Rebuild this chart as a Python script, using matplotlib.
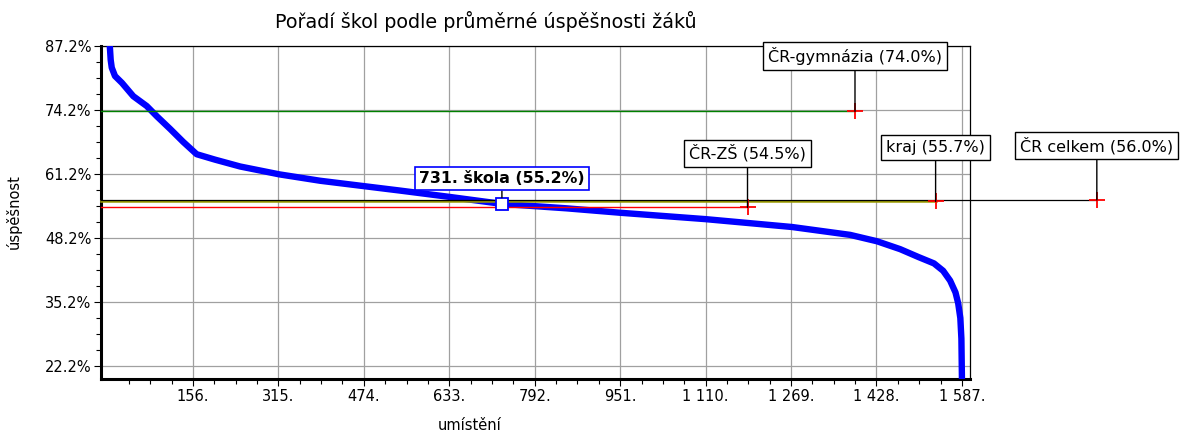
# Pořadí škol - sorted average success of schools
import numpy as np
import matplotlib.pyplot as plt
from matplotlib.ticker import FixedLocator

# curve: rank of school -> average success (%)
ranks = [1, 3, 5, 11, 24, 45, 70, 89, 114, 138, 163, 197, 244, 317, 393, 475,
         542, 635, 731, 851, 951, 1110, 1271, 1379, 1429, 1472, 1506, 1535,
         1552, 1565, 1575, 1580, 1584, 1586, 1587]
success = [88.0, 84.5, 82.9, 81.2, 79.8, 77.1, 75.1, 73.0, 70.4, 67.8, 65.3,
           64.2, 62.8, 61.2, 59.9, 58.8, 57.9, 56.6, 55.2, 54.3, 53.4, 52.1,
           50.5, 48.9, 47.6, 46.0, 44.4, 43.1, 41.6, 39.6, 37.2, 35.0, 32.0,
           27.8, 19.6]

# reference levels
ref_names = ['ČR-gymnázia', 'ČR-ZŠ', 'kraj', 'ČR celkem']
ref_values = [74.0, 54.5, 55.7, 56.0]
ref_colors = ['#008000', '#ff0000', '#9a9a00', 'black']

school_rank = 731
school_value = 55.2

xticks = [156, 315, 474, 633, 792, 951, 1110, 1269, 1428, 1587]
xtick_labels = ['156.', '315.', '474.', '633.', '792.', '951.',
                '1 110.', '1 269.', '1 428.', '1 587.']
yticks = [22.2, 35.2, 48.2, 61.2, 74.2, 87.2]

# where the label markers sit along x (layout)
ref_marks = [1388, 1188, 1538, 1838]
ref_widths = [1.0, 1.0, 1.8, 0.9]
ref_offsets = [40, 39, 39, 39]

W, H = 1181, 434
fig = plt.figure(figsize=(W / 100, H / 100), dpi=100)
ax = fig.add_axes([101 / W, 1 - 379 / H, 869 / W, 333 / H])

ax.set_xlim(-15, 1602)
ax.set_ylim(19.6, 87.3)

ax.plot(ranks, success, color='#0000ff', linewidth=4.6, solid_capstyle='round',
        solid_joinstyle='round', zorder=3)

for name, val, col, xm, lw, off in zip(ref_names, ref_values, ref_colors,
                                       ref_marks, ref_widths, ref_offsets):
    ax.plot([-15, xm], [val, val], color=col, linewidth=lw, zorder=4,
            clip_on=False)
    ax.plot(xm, val, marker='+', color='red', markersize=12, mew=1.3,
            zorder=6, clip_on=False)
    ax.annotate('{} ({:.1f}%)'.format(name, val), xy=(xm, val),
                xytext=(0, off), textcoords='offset points',
                ha='center', va='center', fontsize=11.5, zorder=7,
                bbox=dict(boxstyle='square,pad=0.3', fc='white', ec='black', lw=1),
                arrowprops=dict(arrowstyle='-', color='black', lw=1,
                                shrinkA=0, shrinkB=0),
                annotation_clip=False)

ax.plot(school_rank, school_value, marker='s', markersize=9, mfc='white',
        mec='#0000ff', mew=1.3, zorder=8)
ax.annotate('{}. škola ({:.1f}%)'.format(school_rank, school_value),
            xy=(school_rank, school_value), xytext=(0, 18),
            textcoords='offset points', ha='center', va='center',
            fontsize=11.3, fontweight='bold', zorder=9,
            bbox=dict(boxstyle='square,pad=0.25', fc='white', ec='#0000ff', lw=1.2),
            arrowprops=dict(arrowstyle='-', color='black', lw=1,
                            shrinkA=0, shrinkB=4.5))

# axes cosmetics
ax.set_xticks(xticks)
ax.set_xticklabels(xtick_labels)
ax.set_yticks(yticks)
ax.set_yticklabels(['{:.1f}%'.format(v) for v in yticks])
ax.xaxis.set_minor_locator(FixedLocator(np.arange(156 - 3 * 39.75, 1590, 39.75)))
ax.yaxis.set_minor_locator(FixedLocator(np.arange(22.2 - 3.25, 87.3, 3.25)))
ax.tick_params(which='major', direction='out', length=5, width=0.8,
               labelsize=10.5, pad=2)
ax.tick_params(which='minor', direction='out', length=3.5, width=0.8)
ax.grid(which='major', color='#a0a0a0', linewidth=0.9)
ax.set_axisbelow(True)

for s in ['left', 'bottom']:
    ax.spines[s].set_linewidth(2.2)
for s in ['top', 'right']:
    ax.spines[s].set_linewidth(0.9)

fig.text(486 / W, 1 - 22 / H, 'Pořadí škol podle průměrné úspěšnosti žáků',
         ha='center', va='center', fontsize=13.8)
fig.text(14 / W, 1 - 212 / H, 'úspěšnost', rotation=90, ha='center',
         va='center', fontsize=10.5)
fig.text(470 / W, 1 - 425 / H, 'umístění', ha='center', va='center',
         fontsize=10.5)

fig.savefig('out.png', dpi=100)
